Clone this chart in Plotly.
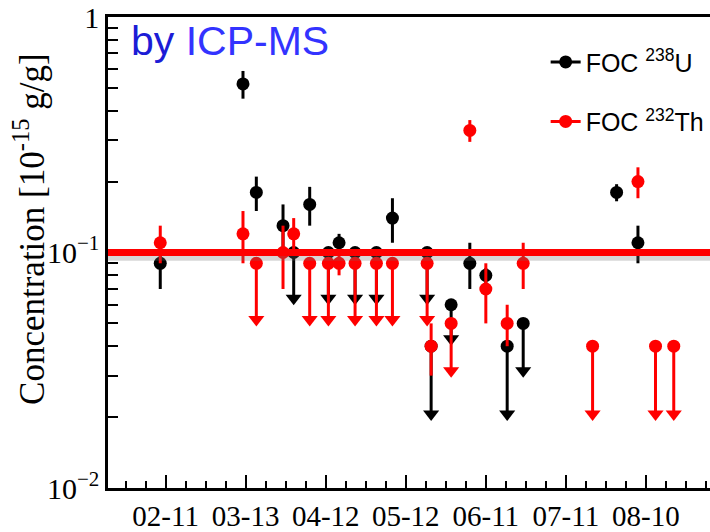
import plotly.graph_objects as go

# ---------------- data ----------------
TICK_DATES = ["2013-02-11", "2013-03-13", "2013-04-12", "2013-05-12",
              "2013-06-11", "2013-07-11", "2013-08-10"]
TICK_LABELS = ["02-11", "03-13", "04-12", "05-12", "06-11", "07-11", "08-10"]
X_RANGE = ["2013-01-20 10:00", "2013-09-03 00:00"]
REF_LEVEL = 0.1

# FOC 238U
u_dates = ["2013-02-09", "2013-03-12", "2013-03-17", "2013-03-27", "2013-03-31",
           "2013-04-06", "2013-04-13", "2013-04-17", "2013-04-23", "2013-05-01",
           "2013-05-07", "2013-05-20", "2013-05-21 12:00", "2013-05-29", "2013-06-05",
           "2013-06-11", "2013-06-19", "2013-06-25", "2013-07-30", "2013-08-07"]
u_vals = [0.09, 0.52, 0.18, 0.13, 0.10, 0.16, 0.10, 0.11, 0.10, 0.10,
          0.14, 0.10, 0.04, 0.06, 0.09, 0.08, 0.04, 0.05, 0.18, 0.11]
u_errs = [0.02, 0.07, 0.03, 0.03, 0.0, 0.03, 0.0, 0.01, 0.0, 0.0,
          0.03, 0.0, 0.0, 0.0, 0.02, 0.006, 0.0, 0.0, 0.015, 0.02]
# lower end of the arrow for upper limits (None = measured value)
u_arrow = [None, None, None, None, 0.064, None, 0.064, None, 0.064, 0.064,
           None, 0.064, 0.0206, 0.043, None, None, 0.0206, 0.0315, None, None]

# FOC 232Th
th_dates = ["2013-02-09", "2013-03-12", "2013-03-17", "2013-03-27", "2013-03-31",
            "2013-04-06", "2013-04-13", "2013-04-17", "2013-04-23", "2013-05-01",
            "2013-05-07", "2013-05-20", "2013-05-21 12:00", "2013-05-29", "2013-06-05",
            "2013-06-11", "2013-06-19", "2013-06-25", "2013-07-21", "2013-08-07",
            "2013-08-13 14:00", "2013-08-20 10:00"]
th_vals = [0.11, 0.12, 0.09, 0.10, 0.12, 0.09, 0.09, 0.09, 0.09, 0.09,
           0.09, 0.09, 0.04, 0.05, 0.33, 0.07, 0.05, 0.09, 0.04, 0.20,
           0.04, 0.04]
th_errs = [0.02, 0.03, 0.0, 0.03, 0.02, 0.0, 0.0, 0.01, 0.0, 0.0,
           0.0, 0.0, 0.01, 0.0, 0.035, 0.02, 0.01, 0.02, 0.0, 0.03,
           0.0, 0.0]
th_arrow = [None, None, 0.052, None, None, 0.052, 0.052, None, 0.052, 0.052,
            0.052, 0.052, None, 0.0315, None, None, None, None, 0.0206, None,
            0.0206, 0.0206]

SERIES = [
    ("FOC <sup>238</sup>U", "black", u_dates, u_vals, u_errs, u_arrow),
    ("FOC <sup>232</sup>Th", "#ff0000", th_dates, th_vals, th_errs, th_arrow),
]

fig = go.Figure()

for name, color, dates, vals, errs, arrows in SERIES:
    # measured points with symmetric error bars
    mx = [d for d, a in zip(dates, arrows) if a is None]
    my = [v for v, a in zip(vals, arrows) if a is None]
    me = [e for e, a in zip(errs, arrows) if a is None]
    fig.add_trace(go.Scatter(
        x=mx, y=my, mode="markers", showlegend=False,
        marker=dict(symbol="circle", size=13, color=color),
        error_y=dict(type="data", array=me, visible=True, color=color,
                     thickness=3, width=0)))
    # upper limits: marker with downward arrow
    lx = [d for d, a in zip(dates, arrows) if a is not None]
    ly = [v for v, a in zip(vals, arrows) if a is not None]
    la = [a for a in arrows if a is not None]
    fig.add_trace(go.Scatter(
        x=lx, y=ly, mode="markers", showlegend=False,
        marker=dict(symbol="circle", size=13, color=color),
        error_y=dict(type="data", symmetric=False, array=[0] * len(ly),
                     arrayminus=[v - a for v, a in zip(ly, la)], visible=True,
                     color=color, thickness=3, width=0)))
    fig.add_trace(go.Scatter(
        x=lx, y=la, mode="markers", showlegend=False,
        marker=dict(symbol="triangle-down", size=14, color=color)))
    # legend entry
    fig.add_trace(go.Scatter(
        x=[None], y=[None], mode="lines+markers", name=name,
        legendgroup=name,
        line=dict(color=color, width=3),
        marker=dict(symbol="circle", size=13, color=color)))

# reference line with soft shadow
fig.add_hline(y=REF_LEVEL * 10 ** (-0.018), line=dict(color="rgba(110,110,110,0.28)", width=8),
              layer="above")
fig.add_hline(y=REF_LEVEL, line=dict(color="#ff0000", width=7), layer="above")

fig.add_annotation(
    xref="paper", yref="paper", x=0.035, y=0.948, xanchor="left", yanchor="middle",
    text="<span style='color:#1c1cd6'>by</span> <span style='color:#3333ff'>ICP-MS</span>",
    showarrow=False, font=dict(family="Liberation Sans", size=41))

fig.add_annotation(
    xref="paper", yref="paper", x=0, y=0.55, xshift=-78, textangle=-90,
    xanchor="center", yanchor="middle",
    text="Concentration [10<sup>-15</sup> g/g]", showarrow=False,
    font=dict(family="Liberation Serif", size=35, color="black"))

fig.update_layout(
    width=710, height=532,
    margin=dict(l=108, r=0, t=14, b=40),
    paper_bgcolor="white", plot_bgcolor="white",
    showlegend=True,
    legend=dict(x=0.727, y=0.953, xanchor="left", yanchor="top",
                bgcolor="rgba(0,0,0,0)", tracegroupgap=24,
                font=dict(family="Liberation Sans", size=25, color="black")),
    xaxis=dict(type="date", range=X_RANGE, tickmode="array",
               tickvals=TICK_DATES, ticktext=TICK_LABELS,
               ticks="inside", ticklen=13, tickwidth=2, tickcolor="black",
               minor=dict(ticks="inside", ticklen=7, tickwidth=2, tickcolor="black",
                          dtick=7.5 * 86400000, tick0="2013-02-11", showgrid=False),
               showline=True, linewidth=2.5, linecolor="black", mirror=True,
               showgrid=False, zeroline=False,
               tickfont=dict(family="Liberation Serif", size=29, color="black")),
    yaxis=dict(type="log", range=[-2, 0], tickmode="array",
               tickvals=[0.01, 0.1, 1],
               ticktext=["10<sup>\u22122</sup>", "10<sup>\u22121</sup>", "1"],
               ticklabeloverflow="allow",
               ticks="inside", ticklen=10, tickwidth=2, tickcolor="black",
               minor=dict(ticks="inside", ticklen=10, tickwidth=2, tickcolor="black",
                          dtick="D1", showgrid=False),
               showline=True, linewidth=2.5, linecolor="black", mirror=False,
               showgrid=False, zeroline=False,
               tickfont=dict(family="Liberation Serif", size=30, color="black")),
)

fig.write_html("out.html")
